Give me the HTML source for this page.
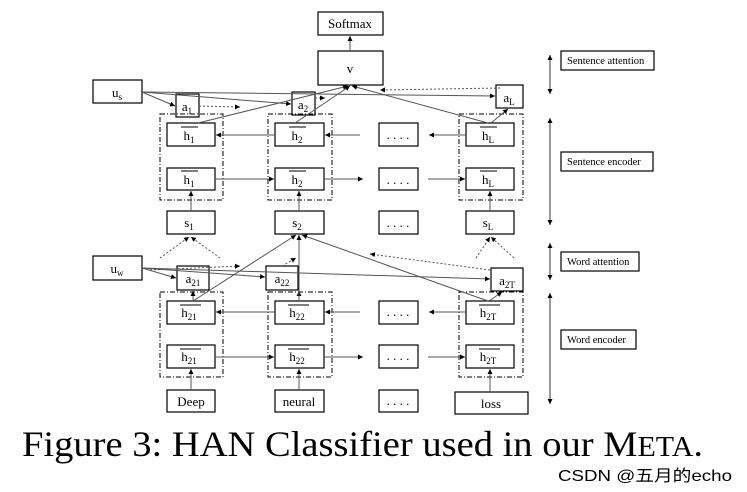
<!DOCTYPE html>
<html><head><meta charset="utf-8"><style>
html,body{margin:0;padding:0;background:#fff;}
svg{display:block;}
text{font-family:"Liberation Serif",serif;fill:#000;}
</style></head><body>
<svg width="747" height="492" viewBox="0 0 747 492" xmlns="http://www.w3.org/2000/svg">
<defs>
<marker id="ar" markerWidth="6" markerHeight="6" refX="5" refY="3" orient="auto" markerUnits="userSpaceOnUse"><path d="M0,0.5 L5,3 L0,5.5z" fill="#000"/></marker>
</defs>
<g fill="#fff" stroke="#000" stroke-width="1.2">
<rect x="318" y="12" width="65" height="23"/>
<rect x="318" y="51" width="65" height="34"/>
<rect x="93" y="80" width="49" height="23"/>
<rect x="176" y="94" width="23" height="23"/>
<rect x="292" y="92" width="23" height="23"/>
<rect x="496" y="85" width="27" height="23"/>
<rect x="93" y="256" width="49" height="24"/>
<rect x="177" y="266" width="32" height="24"/>
<rect x="266" y="266" width="32" height="24"/>
<rect x="491" y="268" width="32" height="23"/>
</g>
<g fill="none" stroke="#000" stroke-width="1" stroke-dasharray="5,2,1,2">
<rect x="160" y="114" width="63" height="86"/><rect x="268" y="114" width="64" height="86"/><rect x="459" y="114" width="64" height="86"/>
<rect x="160" y="292" width="63" height="85"/><rect x="268" y="292" width="64" height="85"/><rect x="459" y="292" width="64" height="85"/>
</g>
<g fill="#fff" stroke="#000" stroke-width="1.2">
<rect x="167" y="123" width="48" height="23"/><rect x="275" y="123" width="49" height="23"/><rect x="379" y="123" width="39" height="23"/><rect x="466" y="123" width="48" height="23"/>
<rect x="167" y="168" width="48" height="22"/><rect x="275" y="168" width="49" height="22"/><rect x="379" y="168" width="39" height="22"/><rect x="466" y="168" width="48" height="22"/>
<rect x="167" y="211" width="48" height="23"/><rect x="275" y="211" width="49" height="23"/><rect x="379" y="211" width="39" height="23"/><rect x="466" y="211" width="48" height="23"/>
<rect x="167" y="301" width="48" height="23"/><rect x="275" y="301" width="49" height="23"/><rect x="379" y="301" width="39" height="23"/><rect x="466" y="301" width="48" height="23"/>
<rect x="167" y="345" width="48" height="23"/><rect x="275" y="345" width="49" height="23"/><rect x="379" y="345" width="39" height="23"/><rect x="466" y="345" width="48" height="23"/>
<rect x="167" y="390" width="48" height="22"/><rect x="275" y="390" width="49" height="22"/><rect x="379" y="390" width="39" height="22"/><rect x="455" y="392" width="73" height="22"/>
<rect x="561" y="51" width="93" height="19"/><rect x="561" y="152" width="92" height="19"/><rect x="561" y="252" width="78" height="19"/><rect x="561" y="330" width="75" height="19"/>
</g>
<g stroke="#555" stroke-width="1" fill="none" marker-end="url(#ar)">
<line x1="350" y1="51" x2="350" y2="36"/>
<line x1="142" y1="92" x2="175" y2="106"/><line x1="142" y1="92" x2="291" y2="104"/><line x1="142" y1="92" x2="495" y2="96"/>
<line x1="198" y1="123" x2="348" y2="86"/><line x1="295" y1="123" x2="350" y2="86"/><line x1="488" y1="123" x2="352" y2="86"/>
<line x1="491" y1="123" x2="508" y2="109"/>
<line x1="275" y1="135" x2="216" y2="135"/><line x1="360" y1="135" x2="325" y2="135"/><line x1="466" y1="135" x2="429" y2="135"/>
<line x1="215" y1="179" x2="274" y2="179"/><line x1="324" y1="179" x2="363" y2="179"/><line x1="428" y1="179" x2="465" y2="179"/>
<line x1="191" y1="211" x2="191" y2="191"/><line x1="299" y1="211" x2="299" y2="191"/><line x1="490" y1="211" x2="490" y2="191"/>
<line x1="142" y1="268" x2="176" y2="278"/><line x1="142" y1="268" x2="265" y2="277"/><line x1="142" y1="268" x2="490" y2="279"/>
<line x1="193" y1="301" x2="193" y2="291"/><line x1="299" y1="301" x2="299" y2="291"/><line x1="489" y1="301" x2="502" y2="292"/>
<line x1="193" y1="301" x2="296" y2="235"/><line x1="299" y1="301" x2="299" y2="235"/><line x1="488" y1="301" x2="302" y2="235"/>
<line x1="275" y1="312" x2="216" y2="312"/><line x1="360" y1="312" x2="325" y2="312"/><line x1="466" y1="312" x2="429" y2="312"/>
<line x1="215" y1="357" x2="274" y2="357"/><line x1="324" y1="357" x2="363" y2="357"/><line x1="428" y1="357" x2="465" y2="357"/>
<line x1="191" y1="390" x2="191" y2="369"/><line x1="299" y1="390" x2="299" y2="369"/><line x1="490" y1="392" x2="490" y2="369"/>
</g>
<g stroke="#555" stroke-width="1" fill="none" stroke-dasharray="2,2" marker-end="url(#ar)">
<line x1="199" y1="106" x2="240" y2="107"/><line x1="315" y1="98" x2="325" y2="98"/><line x1="500" y1="88" x2="380" y2="90"/>
<line x1="160" y1="258" x2="189" y2="237"/><line x1="220" y1="258" x2="191" y2="237"/>
<line x1="476" y1="258" x2="490" y2="237"/><line x1="514" y1="258" x2="491" y2="237"/>
<line x1="150" y1="270" x2="240" y2="266"/><line x1="282" y1="266" x2="296" y2="258"/><line x1="490" y1="270" x2="370" y2="254"/>
</g>
<g stroke="#333" stroke-width="1" marker-end="url(#ar)" fill="none">
<line x1="550" y1="75" x2="550" y2="55"/><line x1="550" y1="75" x2="550" y2="94"/>
<line x1="550" y1="170" x2="550" y2="118"/><line x1="550" y1="170" x2="550" y2="225"/>
<line x1="550" y1="262" x2="550" y2="243"/><line x1="550" y1="262" x2="550" y2="280"/>
<line x1="550" y1="350" x2="550" y2="293"/><line x1="550" y1="350" x2="550" y2="404"/>
</g>
<g font-size="13" text-anchor="middle">
<text x="350" y="28">Softmax</text>
<text x="350" y="73">v</text>
<text x="117" y="97">u<tspan font-size="9" dy="3">s</tspan></text>
<text x="187" y="111">a<tspan font-size="9" dy="3">1</tspan></text>
<text x="303" y="109">a<tspan font-size="9" dy="3">2</tspan></text>
<text x="509" y="102">a<tspan font-size="9" dy="3">L</tspan></text>
<text x="117" y="273">u<tspan font-size="9" dy="3">w</tspan></text>
<text x="193" y="283">a<tspan font-size="9" dy="3">21</tspan></text>
<text x="282" y="283">a<tspan font-size="9" dy="3">22</tspan></text>
<text x="507" y="285">a<tspan font-size="9" dy="3">2T</tspan></text>
<text x="189" y="140">h<tspan font-size="9" dy="3">1</tspan></text>
<text x="297" y="140">h<tspan font-size="9" dy="3">2</tspan></text>
<text x="488" y="140">h<tspan font-size="9" dy="3">L</tspan></text>
<text x="189" y="184">h<tspan font-size="9" dy="3">1</tspan></text>
<text x="297" y="184">h<tspan font-size="9" dy="3">2</tspan></text>
<text x="488" y="184">h<tspan font-size="9" dy="3">L</tspan></text>
<text x="189" y="227">s<tspan font-size="9" dy="3">1</tspan></text>
<text x="297" y="227">s<tspan font-size="9" dy="3">2</tspan></text>
<text x="488" y="227">s<tspan font-size="9" dy="3">L</tspan></text>
<text x="189" y="317">h<tspan font-size="9" dy="3">21</tspan></text>
<text x="297" y="317">h<tspan font-size="9" dy="3">22</tspan></text>
<text x="488" y="317">h<tspan font-size="9" dy="3">2T</tspan></text>
<text x="189" y="361">h<tspan font-size="9" dy="3">21</tspan></text>
<text x="297" y="361">h<tspan font-size="9" dy="3">22</tspan></text>
<text x="488" y="361">h<tspan font-size="9" dy="3">2T</tspan></text>
<text x="191" y="406">Deep</text>
<text x="299" y="406">neural</text>
<text x="491" y="408">loss</text>
<text x="398" y="139" fill="#88a">. . . .</text>
<text x="398" y="184" fill="#88a">. . . .</text>
<text x="398" y="227" fill="#88a">. . . .</text>
<text x="398" y="316">. . . .</text>
<text x="398" y="360">. . . .</text>
<text x="398" y="405">. . . .</text>
</g>
<g stroke="#000" stroke-width="1">
<line x1="181" y1="127" x2="198" y2="127"/><line x1="289" y1="127" x2="306" y2="127"/><line x1="480" y1="127" x2="497" y2="127"/>
<line x1="181" y1="171" x2="198" y2="171"/><line x1="289" y1="171" x2="306" y2="171"/><line x1="480" y1="171" x2="497" y2="171"/>
<line x1="180" y1="305" x2="201" y2="305"/><line x1="288" y1="305" x2="309" y2="305"/><line x1="479" y1="305" x2="500" y2="305"/>
<line x1="180" y1="349" x2="201" y2="349"/><line x1="288" y1="349" x2="309" y2="349"/><line x1="479" y1="349" x2="500" y2="349"/>
</g>
<g font-size="10.5">
<text x="567" y="64">Sentence attention</text>
<text x="567" y="165">Sentence encoder</text>
<text x="567" y="265">Word attention</text>
<text x="567" y="343">Word encoder</text>
</g>
<text x="22" y="456" font-size="36" textLength="681" lengthAdjust="spacingAndGlyphs">Figure 3: HAN Classifier used in our M<tspan font-size="28">ETA</tspan>.</text>
<text x="558" y="481" font-size="16" textLength="174" lengthAdjust="spacingAndGlyphs" style="font-family:'Liberation Sans','Noto Sans CJK SC',sans-serif" fill="#999">CSDN @五月的echo</text>
</svg>
</body></html>
